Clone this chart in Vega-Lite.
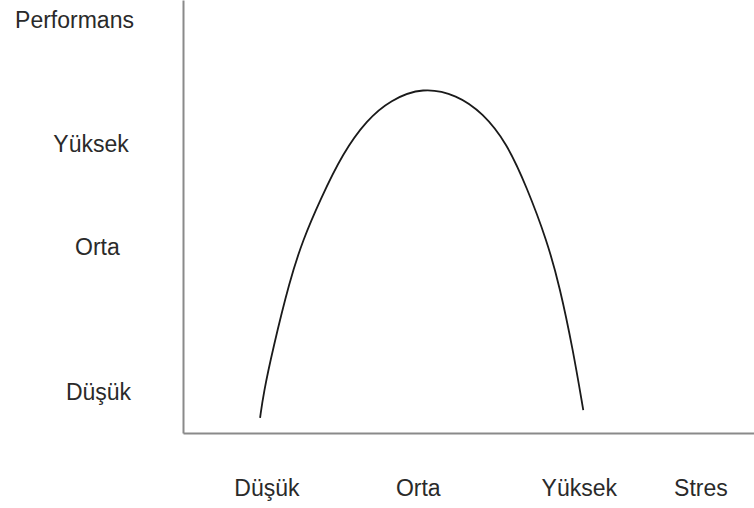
{
  "$schema": "https://vega.github.io/schema/vega-lite/v6.json",
  "width": 571,
  "height": 433,
  "autosize": {"type": "none"},
  "padding": {"left": 183, "top": 0, "right": 0, "bottom": 75},
  "background": "white",
  "config": {"view": {"stroke": null}},
  "layer": [
    {
      "data": {"values": [
        {"stres": 13.5, "performans": 3.5},
        {"stres": 14.1, "performans": 9.2},
        {"stres": 15.7, "performans": 19.2},
        {"stres": 18.7, "performans": 35.3},
        {"stres": 21.0, "performans": 44.6},
        {"stres": 24.0, "performans": 53.8},
        {"stres": 28.0, "performans": 64.7},
        {"stres": 32.2, "performans": 72.3},
        {"stres": 36.3, "performans": 76.9},
        {"stres": 42.0, "performans": 79.9},
        {"stres": 48.0, "performans": 78.1},
        {"stres": 52.5, "performans": 73.9},
        {"stres": 56.7, "performans": 67.0},
        {"stres": 60.2, "performans": 56.8},
        {"stres": 63.7, "performans": 44.6},
        {"stres": 66.0, "performans": 33.7},
        {"stres": 68.3, "performans": 19.2},
        {"stres": 70.1, "performans": 5.3}
      ]},
      "mark": {"type": "line", "color": "#1a1a1a", "strokeWidth": 1.8, "interpolate": "basis"},
      "encoding": {
        "x": {"field": "stres", "type": "quantitative", "scale": {"domain": [0, 100], "nice": false, "zero": false},
              "axis": {"title": null, "labels": false, "ticks": false, "grid": false, "domainColor": "#8a8a8a", "domainWidth": 2}},
        "y": {"field": "performans", "type": "quantitative", "scale": {"domain": [0, 100], "nice": false, "zero": false},
              "axis": {"title": null, "labels": false, "ticks": false, "grid": false, "domainColor": "#8a8a8a", "domainWidth": 2}}
      }
    },
    {
      "data": {"values": [
        {"label": "Performans", "stres": -19.0, "performans": 95.2},
        {"label": "Yüksek", "stres": -16.1, "performans": 66.5},
        {"label": "Orta", "stres": -15.0, "performans": 42.7},
        {"label": "Düşük", "stres": -14.8, "performans": 9.2},
        {"label": "Düşük", "stres": 14.7, "performans": -12.9},
        {"label": "Orta", "stres": 41.2, "performans": -12.9},
        {"label": "Yüksek", "stres": 69.4, "performans": -12.9},
        {"label": "Stres", "stres": 90.7, "performans": -12.9}
      ]},
      "mark": {"type": "text", "font": "Liberation Sans", "fontSize": 23, "color": "#2a2a2a", "align": "center", "baseline": "middle"},
      "encoding": {
        "x": {"field": "stres", "type": "quantitative"},
        "y": {"field": "performans", "type": "quantitative"},
        "text": {"field": "label", "type": "nominal"}
      }
    }
  ]
}
